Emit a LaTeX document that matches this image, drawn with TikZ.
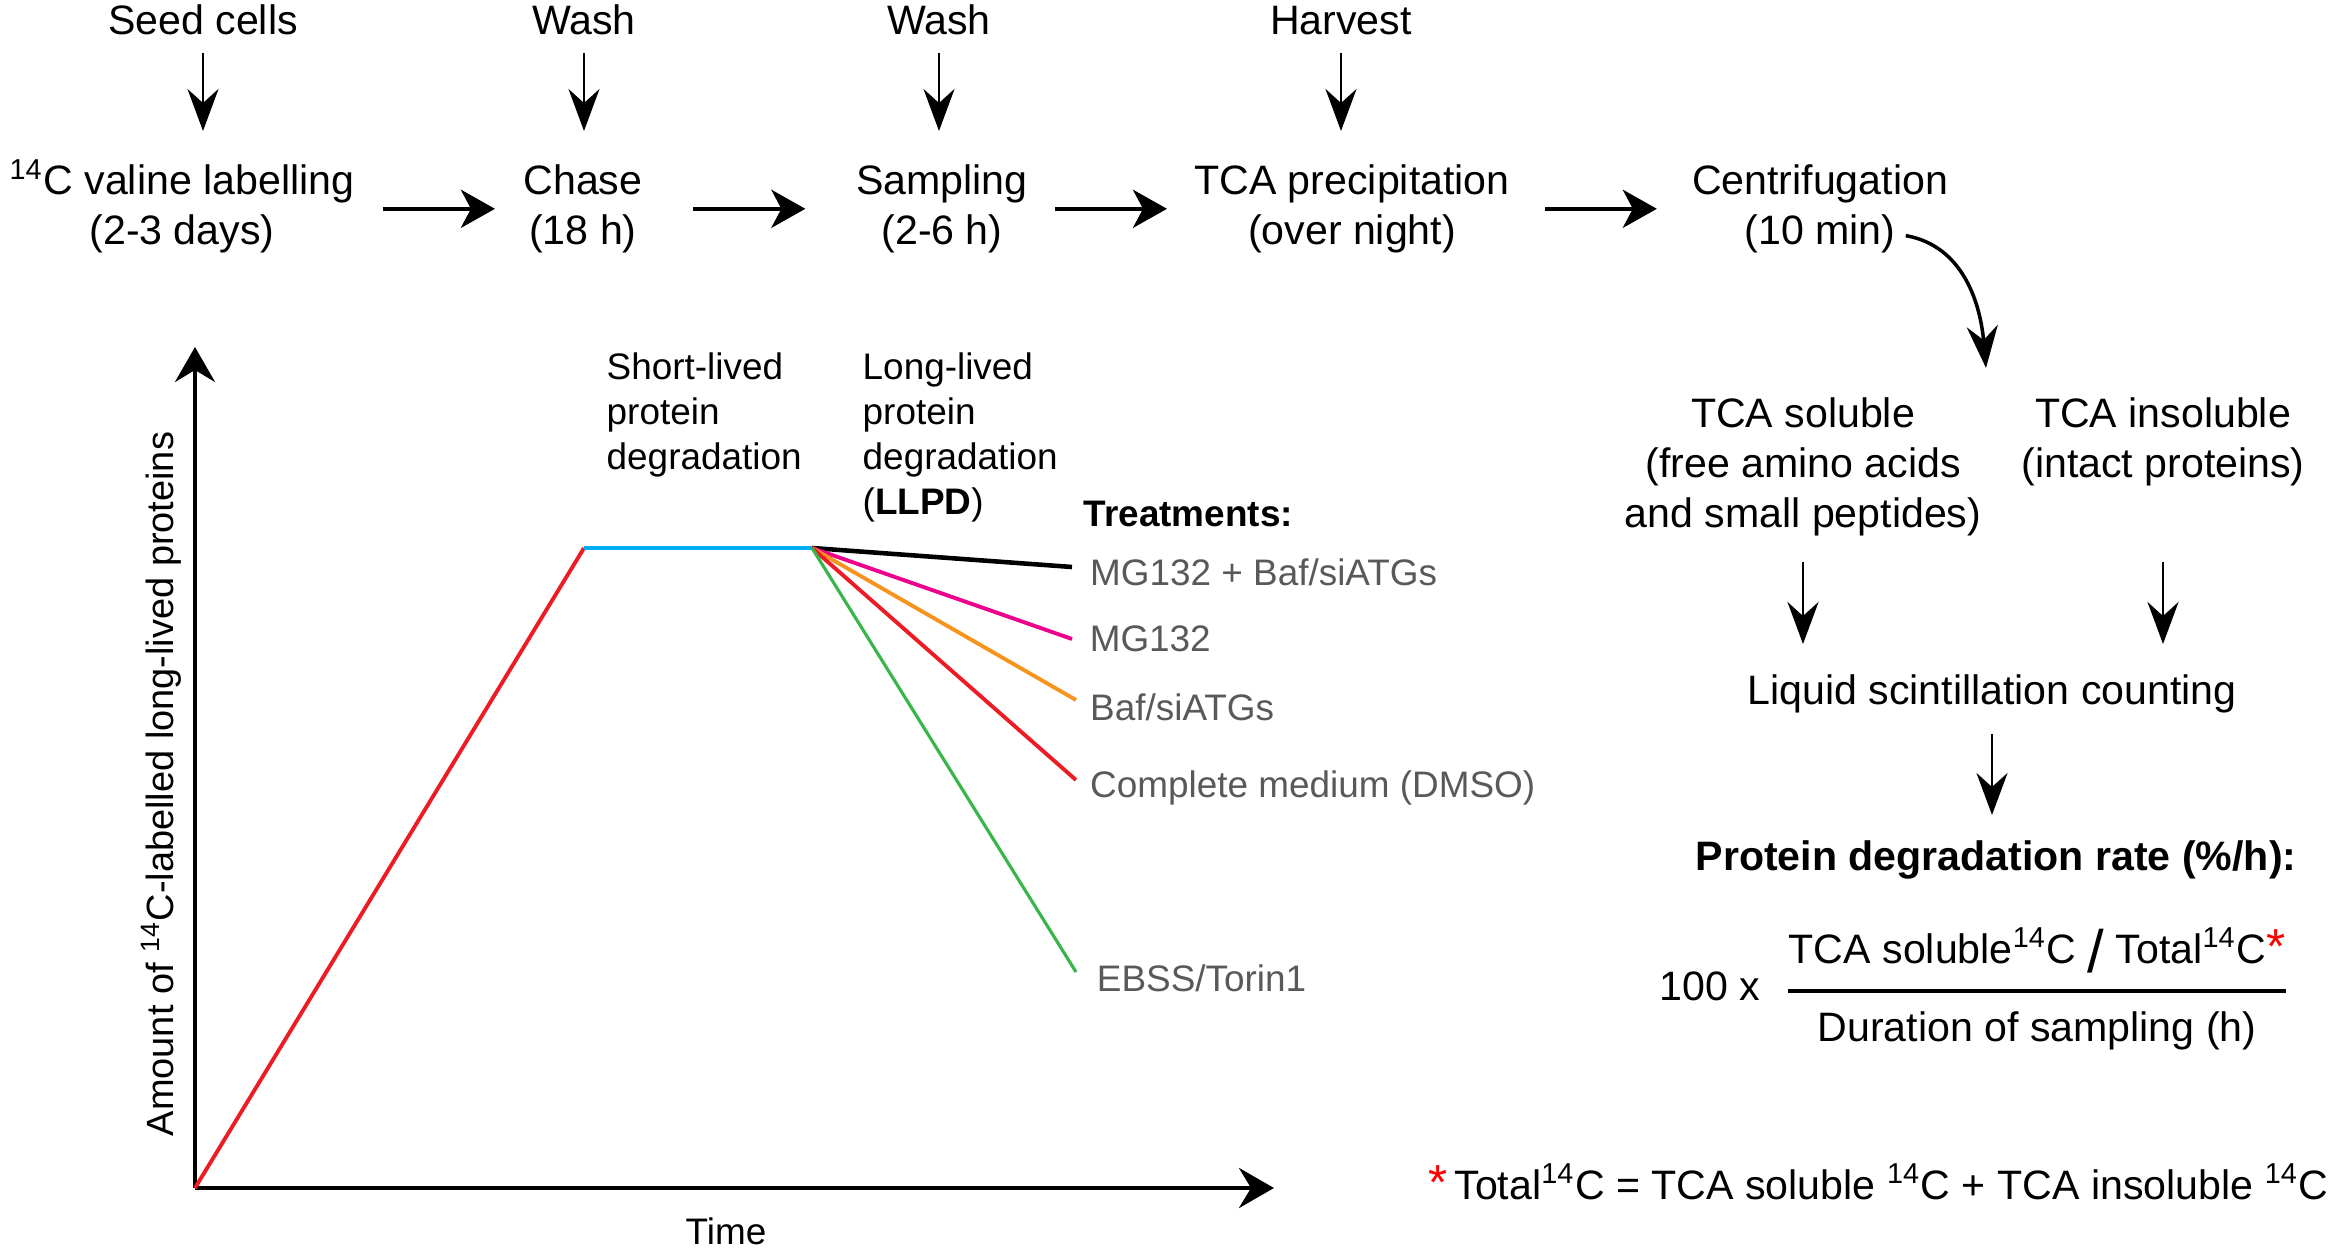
\documentclass[tikz,border=0pt]{standalone}
\usepackage{fontspec}
\setmainfont{Liberation Sans}
\usetikzlibrary{arrows.meta, calc}

\definecolor{chasecyan}{HTML}{00AEEF}
\definecolor{labelred}{HTML}{ED1C24}
\definecolor{mgmagenta}{HTML}{EC008C}
\definecolor{baforange}{HTML}{F7941D}
\definecolor{ebssgreen}{HTML}{39B54A}
\definecolor{trtgray}{HTML}{595959}

\begin{document}
\begin{tikzpicture}[
    proc/.style = {inner sep = 0pt, align = center, font = \fontsize{11.7}{14.2}\selectfont},
    cue/.style = {proc, anchor = base},
    note/.style = {inner sep = 0pt, align = left, font = \fontsize{10.5}{12.8}\selectfont},
    trt/.style = {inner sep = 0pt, text = trtgray, font = \fontsize{10.5}{12.8}\selectfont},
    flow/.style = {line width = 1.3pt, -{Stealth[length = 3.4mm, width = 3.8mm, inset = 1mm]}},
    drop/.style = {line width = 0.8pt, -{Stealth[length = 4.2mm, width = 3.1mm, inset = 1.4mm]}},
    axis/.style = {line width = 1.2pt, -{Stealth[length = 3.5mm, width = 4mm, inset = 1.2mm]}},
    trace/.style = {line width = 1.1pt},
]
    \useasboundingbox (0, 0) rectangle (23.35, 12.55);

    % protocol
    \node[cue] (seed) at (2.03, 12.20) {Seed cells};
    \node[cue] (wash) at (5.84, 12.20) {Wash};
    \node[cue] (rewash) at (9.39, 12.20) {Wash};
    \node[cue] (harvest) at (13.41, 12.20) {Harvest};

    \node[proc, anchor = north] (label) at (1.82, 10.91) {\smash{\textsuperscript{14}}C valine labelling\\(2-3 days)};
    \node[proc, anchor = north] (chase) at (5.83, 10.91) {Chase\\(18 h)};
    \node[proc, anchor = north] (sampling) at (9.42, 10.91) {Sampling\\(2-6 h)};
    \node[proc, anchor = north] (tca) at (13.52, 10.91) {TCA precipitation\\(over night)};
    \node[proc, anchor = north] (centri) at (18.20, 10.91) {Centrifugation\\(10 min)};

    \draw[drop, shorten <= 0.17cm, shorten >= 0.33cm] (seed.south) -- (seed.south |- label.north);
    \draw[drop, shorten <= 0.17cm, shorten >= 0.33cm] (wash.south) -- (wash.south |- chase.north);
    \draw[drop, shorten <= 0.17cm, shorten >= 0.33cm] (rewash.south) -- (rewash.south |- sampling.north);
    \draw[drop, shorten <= 0.17cm, shorten >= 0.33cm] (harvest.south) -- (harvest.south |- tca.north);

    \foreach \a/\b in {label/chase, chase/sampling, sampling/tca, tca/centri}
        \draw[flow] ($(\a.east)!0.5!(\b.west)$) ++(-0.56, 0) -- ++(1.12, 0);

    % read-out
    \node[proc, anchor = north] (soluble) at (18.03, 8.58) {TCA soluble\\(free amino acids\\and small peptides)};
    \node[proc, anchor = north] (insoluble) at (21.63, 8.58) {TCA insoluble\\(intact proteins)};
    \node[proc, anchor = north] (counting) at (19.92, 5.81) {Liquid scintillation counting};
    \node[proc, anchor = north, font = \fontsize{11.7}{14.2}\selectfont\bfseries] (rate) at (19.96, 4.15) {Protein degradation rate (\%/h):};

    \draw[drop, line width = 1pt] ([shift = {(-0.43, 0.18)}]centri.south east) to[out = -10, in = 95] ([shift = {(0.04, 0.29)}]soluble.north east);
    \draw[drop, shorten <= 0.25cm, shorten >= 0.3cm] (soluble.south) -- (soluble.south |- counting.north);
    \draw[drop, shorten <= 0.25cm, shorten >= 0.3cm] (insoluble |- soluble.south) -- (insoluble |- counting.north);
    \draw[drop, shorten <= 0.2cm, shorten >= 0.25cm] (counting.south) -- (counting.south |- rate.north);

    \node[cue] (hundred) at (17.10, 2.55) {100 x};
    \node[cue] (numer) at (20.37, 2.92) {TCA soluble\textsuperscript{14}C \raisebox{-0.9mm}{\fontsize{17}{17}\selectfont /} Total\textsuperscript{14}C\textcolor{red}{\fontsize{14}{14}\selectfont *}};
    \node[cue] (denom) at (20.37, 2.14) {Duration of sampling (h)};
    \draw[line width = 1.3pt] (17.88, 2.64) -- (22.86, 2.64);

    \node[cue, anchor = base east] (total) at (23.29, 0.56) {\textcolor{red}{\fontsize{14}{14}\selectfont *}\,Total\textsuperscript{14}C = TCA soluble \textsuperscript{14}C + TCA insoluble \textsuperscript{14}C};

    % curve
    \coordinate (O) at (1.95, 0.67);
    \coordinate (rise) at (5.84, 7.07);
    \coordinate (fork) at (8.12, 7.07);

    \draw[axis] (O) -- (1.95, 9.08);
    \draw[axis] (O) -- (12.74, 0.67);
    \node[rotate = 90, inner sep = 0pt, font = \fontsize{10.8}{13}\selectfont] (amount) at (1.61, 4.71) {Amount of \textsuperscript{14}C-labelled long-lived proteins};
    \node[inner sep = 0pt, font = \fontsize{10.5}{12.8}\selectfont] (time) at (7.26, 0.24) {Time};

    \draw[trace, labelred] (O) -- (rise);
    \draw[trace, chasecyan] (rise) -- (fork);

    \node[note, anchor = north west] (slpd) at (6.06, 9.03) {Short-lived\\protein\\degradation};
    \node[note, anchor = north west] (llpd) at (8.62, 9.03) {Long-lived\\protein\\degradation\\(\textbf{LLPD})};
    \node[note, anchor = west, font = \fontsize{10.5}{12.8}\selectfont\bfseries] (treat) at (10.83, 7.41) {Treatments:};

    \draw[trace, black, line width = 1.3pt] (fork) -- (10.72, 6.88) node[trt, right = 4.5pt, yshift = -0.05cm] (combo) {MG132 + Baf/siATGs};
    \draw[trace, mgmagenta] (fork) -- (10.72, 6.16) node[trt, right = 4.5pt] (mg) {MG132};
    \draw[trace, baforange] (fork) -- (10.76, 5.55) node[trt, right = 3.5pt, yshift = -0.07cm] (baf) {Baf/siATGs};
    \draw[trace, labelred] (fork) -- (10.76, 4.75) node[trt, right = 3.5pt, yshift = -0.08cm] (dmso) {Complete medium (DMSO)};
    \draw[trace, ebssgreen, line width = 0.9pt] (fork) -- (10.76, 2.83) node[trt, right = 5.5pt, yshift = -0.06cm] (ebss) {EBSS/Torin1};
\end{tikzpicture}
\end{document}
